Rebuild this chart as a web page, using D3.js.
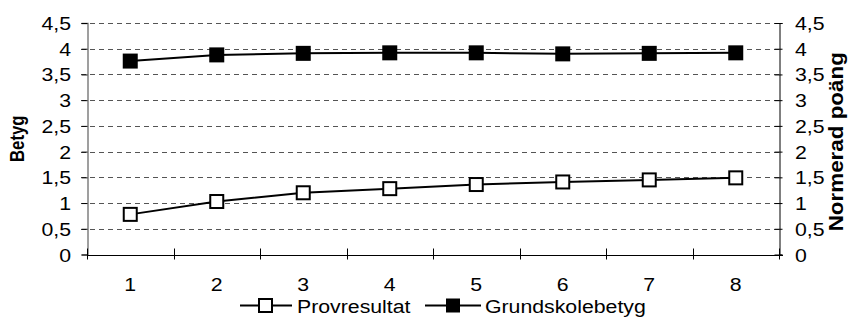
<!DOCTYPE html>
<html>
<head>
<meta charset="utf-8">
<script src="https://cdn.jsdelivr.net/npm/d3@7/dist/d3.min.js"></script>
<style>
html,body{margin:0;padding:0;background:#fff;}
svg{display:block;font-family:"Liberation Sans",Arial,sans-serif;}
</style>
</head>
<body>
<svg id="chart" width="851" height="318"></svg>
<script>
const categories = ["1","2","3","4","5","6","7","8"];
const provresultat = [0.78, 1.03, 1.20, 1.28, 1.36, 1.41, 1.45, 1.49];
const grundskolebetyg = [3.76, 3.88, 3.91, 3.92, 3.92, 3.90, 3.91, 3.92];
const yTicks = [0, 0.5, 1, 1.5, 2, 2.5, 3, 3.5, 4, 4.5];
const seriesNames = ["Provresultat", "Grundskolebetyg"];
const leftTitle = "Betyg";
const rightTitle = "Normerad poäng";

(function () {
const svg = d3.select("#chart");
const pL = 87, pR = 779, pT = 23, pB = 254.5;
const SX = 1.12;      // horizontal stretch of the text, as in the reference
const FS = 19;

const x = d3.scaleBand().domain(categories).range([pL, pR]).padding(0);
const y = d3.scaleLinear().domain([0, 4.5]).range([pB, pT]);
const fmt = d => String(d).replace(".", ",");

function stext(g, tx, ty, str, anchor, size, weight) {
  return g.append("text")
    .attr("transform", `translate(${tx},${ty}) scale(${SX},1)`)
    .attr("text-anchor", anchor).attr("font-size", size)
    .attr("font-weight", weight || "normal").attr("fill", "#000").text(str);
}

// gridlines
svg.append("g").selectAll("line").data(yTicks.filter(d => d > 0)).join("line")
  .attr("x1", pL - 6).attr("x2", pR + 3)
  .attr("y1", d => Math.round(y(d)) + 0.5).attr("y2", d => Math.round(y(d)) + 0.5)
  .attr("stroke", "#555").attr("stroke-width", 1).attr("stroke-dasharray", "5,4");

// left axis
const gl = svg.append("g").attr("transform", `translate(${pL + 0.5},0)`)
  .call(d3.axisLeft(y).tickValues(yTicks).tickFormat(fmt).tickSize(6).tickPadding(6));
gl.select(".domain").attr("stroke", "#808080").attr("stroke-width", 1.5);
gl.selectAll(".tick line").attr("stroke", "#000");
gl.selectAll(".tick text").remove();
gl.selectAll(".tick").each(function (d) {
  stext(d3.select(this), -16.5, 6.5, fmt(d), "end", FS);
});

// right axis
const gr = svg.append("g").attr("transform", `translate(${pR + 0.5},0)`)
  .call(d3.axisRight(y).tickValues(yTicks).tickFormat(fmt).tickSize(3).tickPadding(9));
gr.select(".domain").attr("stroke", "#000");
gr.selectAll(".tick line").attr("x1", -5).attr("stroke", "#000");
gr.selectAll(".tick text").remove();
gr.selectAll(".tick").each(function (d) {
  stext(d3.select(this), 15.5, 6.5, fmt(d), "start", FS);
});

// bottom axis with ticks at category boundaries
const boundaries = categories.map(c => x(c)).concat([pR]);
const gb = svg.append("g");
gb.append("line").attr("x1", pL).attr("x2", pR + 4)
  .attr("y1", Math.round(pB) + 0.5).attr("y2", Math.round(pB) + 0.5).attr("stroke", "#000");
gb.selectAll("line.t").data(boundaries).join("line").attr("class", "t")
  .attr("x1", d => Math.round(d) + 0.5).attr("x2", d => Math.round(d) + 0.5)
  .attr("y1", pB - 6).attr("y2", pB + 5).attr("stroke", "#000");
categories.forEach(c => stext(gb, x(c) + x.bandwidth() / 2, 291, c, "middle", FS));

// lines
const cx = c => x(c) + x.bandwidth() / 2;
const line = d3.line().x((d, i) => cx(categories[i])).y(d => y(d));
[provresultat, grundskolebetyg].forEach(s => {
  svg.append("path").datum(s).attr("d", line).attr("fill", "none")
    .attr("stroke", "#000").attr("stroke-width", 2);
});
// markers
svg.append("g").selectAll("rect").data(provresultat).join("rect")
  .attr("x", (d, i) => cx(categories[i]) - 6.5).attr("y", d => y(d) - 6.5)
  .attr("width", 13).attr("height", 13).attr("fill", "#fff").attr("stroke", "#000").attr("stroke-width", 2);
svg.append("g").selectAll("rect").data(grundskolebetyg).join("rect")
  .attr("x", (d, i) => cx(categories[i]) - 7.5).attr("y", d => y(d) - 7.5)
  .attr("width", 15).attr("height", 15).attr("fill", "#000");

// axis titles
svg.append("text").attr("transform", `translate(24,${(pT + pB) / 2}) rotate(-90) scale(1.05,1.3)`)
  .attr("text-anchor", "middle").attr("font-size", 16).attr("font-weight", "bold").text(leftTitle);
svg.append("text").attr("transform", `translate(843,${(pT + pB) / 2 + 3}) rotate(-90) scale(1.4,1.3)`)
  .attr("text-anchor", "middle").attr("font-size", 16).attr("font-weight", "bold").text(rightTitle);

// legend
const lg = svg.append("g");
const ly = 305.5;
lg.append("line").attr("x1", 240).attr("x2", 292).attr("y1", ly).attr("y2", ly).attr("stroke", "#000").attr("stroke-width", 2);
lg.append("rect").attr("x", 259).attr("y", ly - 6.5).attr("width", 13).attr("height", 13).attr("fill", "#fff").attr("stroke", "#000").attr("stroke-width", 2);
stext(lg, 297, ly + 7, seriesNames[0], "start", FS);
lg.append("line").attr("x1", 425).attr("x2", 481).attr("y1", ly).attr("y2", ly).attr("stroke", "#000").attr("stroke-width", 2);
lg.append("rect").attr("x", 446).attr("y", ly - 7).attr("width", 14).attr("height", 14).attr("fill", "#000");
stext(lg, 485, ly + 7, seriesNames[1], "start", FS);
})();
</script>
</body>
</html>
